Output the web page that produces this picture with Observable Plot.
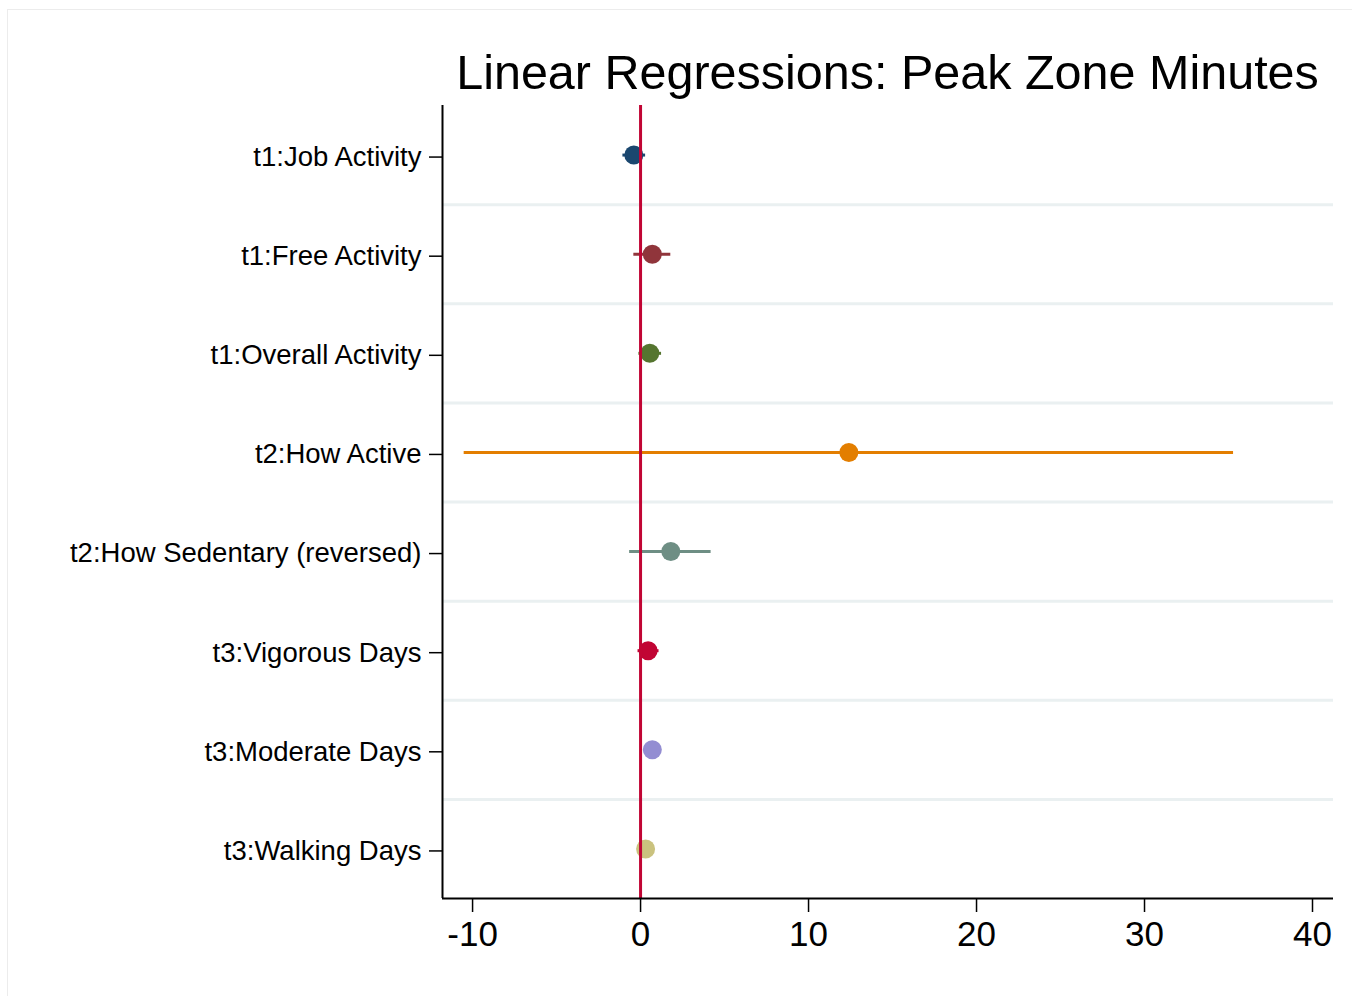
<!DOCTYPE html>
<html>
<head>
<meta charset="utf-8">
<script src="https://cdn.jsdelivr.net/npm/d3@7"></script>
<script src="https://cdn.jsdelivr.net/npm/@observablehq/plot@0.6"></script>
<style>
  html, body { margin: 0; padding: 0; background: #fff; }
  #wrap {
    position: relative; width: 1352px; height: 996px; overflow: hidden;
    font-family: "Liberation Sans", Arial, Helvetica, sans-serif;
  }
  #frame {
    position: absolute; left: 7px; top: 9px; right: -2px; bottom: -2px;
    border-left: 1px solid #ececec; border-top: 1px solid #ececec;
    pointer-events: none;
  }
  #title {
    height: 100px; box-sizing: border-box; padding-top: 48px;
    margin-left: 442px; width: 891px; text-align: center;
    font-size: 48.5px; line-height: 48px; color: #000; white-space: nowrap;
  }
  svg { display: block; }
</style>
</head>
<body>
<div id="wrap">
  <div id="frame"></div>
  <div id="title">Linear Regressions: Peak Zone Minutes</div>
  <div id="chart"></div>
</div>
<script>
// Coefficient estimates with 95% confidence intervals, one row per predictor
const labels = [
  "t1:Job Activity",
  "t1:Free Activity",
  "t1:Overall Activity",
  "t2:How Active",
  "t2:How Sedentary (reversed)",
  "t3:Vigorous Days",
  "t3:Moderate Days",
  "t3:Walking Days"
];
const estimate = [-0.4, 0.7, 0.55, 12.4, 1.8, 0.45, 0.7, 0.3];
const lower    = [-1.05, -0.4, -0.1, -10.5, -0.65, -0.15, 0.35, 0.0];
const upper    = [0.3, 1.8, 1.25, 35.3, 4.2, 1.1, 1.05, 0.6];
const colors   = ["#1a476f", "#90353b", "#55752f", "#e37e00", "#6e8e84", "#c10534", "#938dd2", "#cac27e"];
const xTicks   = [-10, 0, 10, 20, 30, 40];
const xDomain  = [-11.79, 41.25];

const rows = labels.map((label, i) => ({
  pos: i + 1, label, est: estimate[i], lo: lower[i], hi: upper[i], color: colors[i]
}));
const yDomain = [labels.length + 0.5, 0.5];
const separators = labels.slice(1).map((_, i) => i + 1.5);

const chart = Plot.plot({
  width: 1352,
  height: 896,
  marginTop: 5,
  marginBottom: 98,
  marginLeft: 442,
  marginRight: 19,
  style: { fontFamily: "'Liberation Sans', Arial, Helvetica, sans-serif", color: "#000", background: "#fff" },
  x: { domain: xDomain },
  y: { domain: yDomain },
  marks: [
    Plot.ruleY(separators, { stroke: "#eaf0f1", strokeWidth: 3 }),
    Plot.ruleY(rows, { y: "pos", x1: "lo", x2: "hi", stroke: "color", strokeWidth: 3 }),
    Plot.dot(rows, { x: "est", y: "pos", r: 9.5, fill: "color", stroke: "none" }),
    Plot.ruleX([0], { stroke: "#c10534", strokeWidth: 3 }),
    Plot.ruleX([xDomain[0]], { stroke: "#000", strokeWidth: 2 }),
    Plot.ruleY([yDomain[0]], { stroke: "#000", strokeWidth: 2 }),
    Plot.axisY({
      ticks: rows.map(d => d.pos),
      tickFormat: p => labels[p - 1],
      tickSize: 13, tickPadding: 8, fontSize: 27.5, dy: 2,
      stroke: "#000", strokeWidth: 1.5, label: null
    }),
    Plot.axisX({
      ticks: xTicks, tickFormat: d => String(d),
      tickSize: 14, tickPadding: 9, fontSize: 35,
      stroke: "#000", strokeWidth: 1.5, label: null
    })
  ]
});
document.getElementById("chart").appendChild(chart);
</script>
</body>
</html>
